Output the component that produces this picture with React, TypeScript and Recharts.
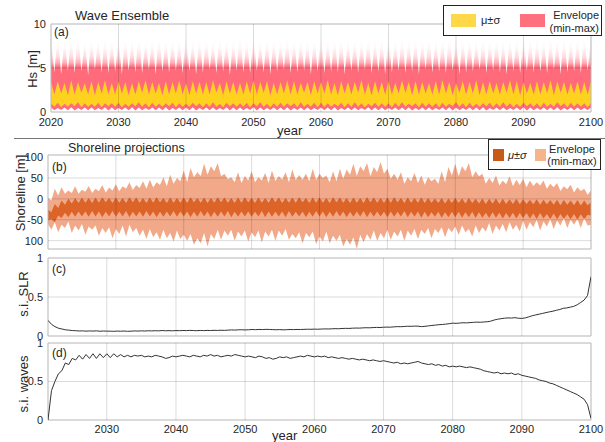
import React from 'react';
import {
  ComposedChart,
  Area,
  Line,
  XAxis,
  YAxis,
  ReferenceLine,
  ReferenceArea,
} from 'recharts';

// ---- panel (a): wave ensemble, one winter peak per year + one summer low ----
const hsMaxPeak = [
  8.6, 9.1, 8.3, 8.8, 9.4, 8.1, 8.9, 8.5, 9.2, 8.7,
  8.4, 9.0, 8.6, 9.5, 8.2, 8.8, 9.1, 8.4, 8.9, 8.6,
  9.3, 8.5, 8.8, 9.0, 8.3, 9.2, 8.7, 8.5, 9.4, 8.6,
  8.9, 8.2, 9.1, 8.8, 8.5, 9.3, 8.7, 9.0, 8.4, 8.9,
  9.2, 8.6, 8.8, 9.5, 8.3, 8.9, 8.7, 9.1, 8.5, 9.0,
  8.8, 8.4, 9.3, 8.6, 9.0, 8.7, 9.2, 8.5, 8.9, 9.4,
  8.6, 8.8, 9.1, 8.4, 9.0, 8.7, 9.3, 8.5, 8.9, 9.1,
  8.6, 9.2, 8.8, 8.5, 9.0, 8.7, 9.4, 8.6, 8.9, 9.1,
  8.8,
];
const hsMaxLow = [
  4.5, 4.3, 4.7, 4.4, 4.6, 4.2, 4.8, 4.5, 4.4, 4.6,
  4.3, 4.7, 4.5, 4.4, 4.8, 4.3, 4.6, 4.5, 4.7, 4.4,
  4.6, 4.3, 4.5, 4.8, 4.4, 4.6, 4.2, 4.7, 4.5, 4.4,
  4.7, 4.5, 4.3, 4.6, 4.8, 4.4, 4.5, 4.7, 4.3, 4.6,
  4.4, 4.6, 4.5, 4.3, 4.7, 4.5, 4.8, 4.4, 4.6, 4.3,
  4.5, 4.7, 4.4, 4.6, 4.3, 4.8, 4.5, 4.6, 4.4, 4.7,
  4.3, 4.5, 4.6, 4.8, 4.4, 4.7, 4.5, 4.3, 4.6, 4.4,
  4.7, 4.5, 4.6, 4.4, 4.8, 4.3, 4.5, 4.6, 4.4, 4.7,
];
const hsUpPeak = [
  3.4, 3.5, 3.3, 3.6, 3.4, 3.3, 3.5, 3.4, 3.6, 3.3,
  3.5, 3.4, 3.3, 3.5, 3.6, 3.4, 3.3, 3.5, 3.4, 3.6,
  3.3, 3.5, 3.4, 3.4, 3.6, 3.3, 3.5, 3.4, 3.3, 3.5,
  3.6, 3.4, 3.5, 3.3, 3.4, 3.6, 3.5, 3.3, 3.4, 3.5,
  3.4, 3.6, 3.3, 3.5, 3.4, 3.4, 3.6, 3.3, 3.5, 3.4,
  3.5, 3.3, 3.6, 3.4, 3.5, 3.4, 3.3, 3.5, 3.6, 3.4,
  3.3, 3.5, 3.4, 3.6, 3.4, 3.5, 3.3, 3.4, 3.6, 3.5,
  3.4, 3.3, 3.5, 3.4, 3.6, 3.5, 3.4, 3.3, 3.5, 3.4,
  3.5,
];
const hsUpLow = [
  2.0, 2.1, 1.9, 2.0, 2.2, 2.0, 1.9, 2.1, 2.0, 2.0,
  2.1, 1.9, 2.0, 2.2, 2.0, 2.1, 1.9, 2.0, 2.1, 2.0,
  1.9, 2.1, 2.0, 2.0, 2.2, 1.9, 2.1, 2.0, 2.0, 2.1,
  2.0, 2.2, 1.9, 2.0, 2.1, 2.0, 2.0, 2.2, 1.9, 2.1,
  2.1, 2.0, 1.9, 2.1, 2.0, 2.2, 2.0, 1.9, 2.1, 2.0,
  2.0, 2.1, 2.2, 1.9, 2.0, 2.1, 2.0, 2.0, 2.1, 1.9,
  2.2, 2.0, 2.1, 1.9, 2.0, 2.1, 2.0, 2.2, 2.0, 1.9,
  2.1, 2.0, 2.0, 2.1, 1.9, 2.2, 2.0, 2.1, 2.0, 2.0,
];
const hsDnPeak = [
  1.0, 1.05, 0.95, 1.0, 1.1, 1.0, 0.95, 1.05, 1.0, 1.0,
  1.05, 0.95, 1.0, 1.1, 1.0, 1.05, 0.95, 1.0, 1.05, 1.0,
  0.95, 1.05, 1.0, 1.0, 1.1, 0.95, 1.05, 1.0, 1.0, 1.05,
  1.0, 1.1, 0.95, 1.0, 1.05, 1.0, 1.0, 1.1, 0.95, 1.05,
  1.05, 1.0, 0.95, 1.05, 1.0, 1.1, 1.0, 0.95, 1.05, 1.0,
  1.0, 1.05, 1.1, 0.95, 1.0, 1.05, 1.0, 1.0, 1.05, 0.95,
  1.1, 1.0, 1.05, 0.95, 1.0, 1.05, 1.0, 1.1, 1.0, 0.95,
  1.05, 1.0, 1.0, 1.05, 0.95, 1.1, 1.0, 1.05, 1.0, 1.0,
  1.0,
];
const hsDnLow = [
  0.6, 0.55, 0.6, 0.65, 0.55, 0.6, 0.6, 0.55, 0.65, 0.6,
  0.55, 0.6, 0.65, 0.6, 0.55, 0.6, 0.6, 0.65, 0.55, 0.6,
  0.6, 0.65, 0.55, 0.6, 0.6, 0.55, 0.65, 0.6, 0.6, 0.55,
  0.65, 0.6, 0.55, 0.6, 0.6, 0.65, 0.55, 0.6, 0.6, 0.55,
  0.6, 0.6, 0.65, 0.55, 0.6, 0.6, 0.55, 0.65, 0.6, 0.6,
  0.55, 0.6, 0.6, 0.65, 0.55, 0.6, 0.6, 0.55, 0.6, 0.65,
  0.6, 0.55, 0.6, 0.6, 0.65, 0.55, 0.6, 0.6, 0.55, 0.6,
  0.65, 0.6, 0.55, 0.6, 0.6, 0.65, 0.55, 0.6, 0.6, 0.55,
];
const hsMinPeak = [
  0.5, 0.45, 0.5, 0.55, 0.45, 0.5, 0.5, 0.45, 0.55, 0.5,
  0.45, 0.5, 0.55, 0.5, 0.45, 0.5, 0.5, 0.55, 0.45, 0.5,
  0.5, 0.55, 0.45, 0.5, 0.5, 0.45, 0.55, 0.5, 0.5, 0.45,
  0.55, 0.5, 0.45, 0.5, 0.5, 0.55, 0.45, 0.5, 0.5, 0.45,
  0.5, 0.5, 0.55, 0.45, 0.5, 0.5, 0.45, 0.55, 0.5, 0.5,
  0.45, 0.5, 0.5, 0.55, 0.45, 0.5, 0.5, 0.45, 0.5, 0.55,
  0.5, 0.45, 0.5, 0.5, 0.55, 0.45, 0.5, 0.5, 0.45, 0.5,
  0.55, 0.5, 0.45, 0.5, 0.5, 0.55, 0.45, 0.5, 0.5, 0.45,
  0.5,
];
const hsMinLow = [
  0.2, 0.22, 0.2, 0.18, 0.22, 0.2, 0.2, 0.22, 0.18, 0.2,
  0.22, 0.2, 0.18, 0.2, 0.22, 0.2, 0.2, 0.18, 0.22, 0.2,
  0.2, 0.18, 0.22, 0.2, 0.2, 0.22, 0.18, 0.2, 0.2, 0.22,
  0.18, 0.2, 0.22, 0.2, 0.2, 0.18, 0.22, 0.2, 0.2, 0.22,
  0.2, 0.2, 0.18, 0.22, 0.2, 0.2, 0.22, 0.18, 0.2, 0.2,
  0.22, 0.2, 0.2, 0.18, 0.22, 0.2, 0.2, 0.22, 0.2, 0.18,
  0.2, 0.22, 0.2, 0.2, 0.18, 0.22, 0.2, 0.2, 0.22, 0.2,
  0.18, 0.2, 0.22, 0.2, 0.2, 0.18, 0.22, 0.2, 0.2, 0.22,
];

// ---- panel (b): shoreline, half-year steps 2020 .. 2100 ----
const shoreEnvHi = [
  2, -4, 24, 8, 28, 12, 20, 14, 30, 12, 22, 17, 31, 14, 24, 18, 33, 15, 27, 20,
  35, 18, 30, 24, 40, 21, 33, 26, 42, 24, 46, 27, 40, 33, 52, 30, 58, 36, 50, 42,
  68, 40, 74, 52, 64, 55, 84, 58, 78, 66, 86, 54, 60, 47, 52, 40, 64, 38, 55, 44,
  66, 40, 52, 44, 62, 38, 68, 43, 55, 46, 64, 40, 70, 45, 57, 46, 60, 42, 72, 45,
  60, 50, 56, 40, 66, 42, 72, 48, 70, 58, 84, 55, 78, 66, 86, 54, 76, 64, 88, 60,
  72, 48, 60, 46, 64, 36, 52, 42, 62, 38, 56, 34, 52, 42, 48, 36, 66, 40, 76, 56,
  84, 54, 78, 66, 86, 52, 66, 54, 60, 36, 50, 38, 56, 32, 44, 35, 54, 30, 46, 33,
  48, 28, 44, 31, 40, 32, 44, 24, 36, 28, 38, 19, 30, 23, 34, 15, 28, 19, 24, 10,
  20,
];
const shoreEnvLo = [
  -60, -74, -56, -80, -62, -70, -54, -82, -64, -76, -60, -86, -66, -74, -64, -88, -70, -82, -68, -94,
  -72, -84, -64, -90, -62, -80, -70, -88, -74, -96, -72, -92, -80, -98, -74, -94, -82, -102, -76, -96,
  -86, -100, -84, -110, -94, -106, -82, -114, -84, -96, -74, -98, -76, -88, -74, -100, -78, -90, -76, -102,
  -80, -92, -76, -104, -78, -90, -74, -100, -76, -88, -72, -98, -84, -94, -80, -106, -82, -92, -78, -108,
  -90, -102, -78, -106, -88, -100, -86, -114, -96, -110, -92, -120, -86, -104, -84, -98, -76, -100, -82, -94,
  -74, -98, -78, -90, -74, -100, -76, -88, -72, -96, -74, -84, -70, -94, -72, -82, -68, -92, -70, -80,
  -66, -86, -64, -80, -72, -90, -64, -82, -68, -78, -58, -84, -64, -76, -60, -80, -56, -74, -62, -78,
  -52, -74, -56, -68, -50, -76, -54, -66, -48, -72, -52, -64, -46, -70, -50, -62, -48, -70, -46, -64,
  -62,
];
const shoreSigHi = [
  -26, -32, -12, -22, -4, -14, 0, -11, 2, -10, 3, -9, 2, -10, 3, -9, 4, -8, 2, -10,
  3, -9, 2, -10, 4, -8, 3, -9, 2, -10, 3, -9, 4, -8, 2, -10, 3, -9, 2, -9,
  3, -10, 4, -8, 2, -9, 3, -10, 2, -9, 4, -8, 3, -9, 2, -10, 3, -9, 4, -8,
  2, -10, 3, -9, 2, -9, 4, -8, 3, -10, 2, -9, 3, -9, 4, -8, 2, -10, 3, -9,
  3, -9, 2, -10, 4, -8, 3, -9, 2, -10, 3, -9, 2, -10, 4, -8, 3, -9, 2, -10,
  3, -9, 4, -8, 2, -10, 3, -9, 2, -9, 3, -10, 2, -9, 1, -10, 2, -11, 1, -10,
  2, -10, 1, -11, 2, -10, 0, -11, 1, -12, 0, -11, 1, -12, 0, -12, -1, -12, 0, -13,
  -1, -12, -2, -13, -1, -14, -2, -13, -3, -14, -2, -15, -3, -14, -4, -15, -3, -16, -4, -15,
  -8,
];
const shoreSigLo = [
  -52, -48, -56, -40, -46, -33, -44, -31, -43, -30, -42, -30, -43, -29, -42, -30, -44, -31, -42, -29,
  -43, -30, -42, -29, -44, -31, -42, -30, -43, -29, -42, -30, -44, -31, -43, -30, -42, -29, -43, -30,
  -42, -30, -44, -31, -43, -29, -42, -30, -44, -31, -43, -30, -42, -29, -44, -31, -43, -30, -42, -30,
  -43, -31, -42, -29, -44, -30, -43, -31, -42, -30, -44, -29, -43, -31, -42, -30, -44, -31, -43, -29,
  -42, -30, -44, -31, -43, -29, -42, -30, -44, -31, -43, -30, -42, -29, -44, -31, -43, -30, -42, -31,
  -44, -30, -43, -31, -42, -29, -44, -31, -43, -30, -45, -31, -44, -32, -43, -31, -45, -32, -44, -31,
  -44, -31, -45, -32, -44, -31, -46, -32, -45, -33, -46, -32, -45, -33, -47, -34, -46, -33, -47, -34,
  -46, -34, -47, -35, -48, -34, -47, -36, -48, -35, -49, -36, -48, -37, -49, -36, -50, -37, -49, -38,
  -40,
];

// ---- panels (c) and (d): sensitivity indices, half-year steps 2021.5 .. 2100 ----
const siSLR = [
  0.2, 0.15, 0.12, 0.1, 0.09, 0.08, 0.075, 0.07,
  0.068, 0.064, 0.066, 0.062, 0.065, 0.063, 0.066, 0.061, 0.064, 0.062,
  0.062, 0.06, 0.063, 0.061, 0.064, 0.06, 0.062, 0.065, 0.063, 0.066, 0.064, 0.067, 0.065, 0.068, 0.066, 0.07, 0.067, 0.069, 0.066, 0.07,
  0.068, 0.071, 0.069, 0.072, 0.07, 0.068, 0.071, 0.069, 0.072, 0.07, 0.073, 0.071, 0.074, 0.072, 0.075, 0.078, 0.076, 0.079, 0.08, 0.078,
  0.08, 0.083, 0.081, 0.084, 0.082, 0.085, 0.084, 0.082, 0.08, 0.082, 0.079, 0.081, 0.083, 0.082, 0.084, 0.083, 0.085, 0.087, 0.086, 0.088,
  0.087, 0.089, 0.091, 0.09, 0.092, 0.094, 0.093, 0.096, 0.098, 0.097, 0.1, 0.102, 0.101, 0.104, 0.106, 0.105, 0.108, 0.11, 0.109, 0.112,
  0.114, 0.113, 0.117, 0.12, 0.119, 0.122, 0.125, 0.124, 0.127, 0.126, 0.12, 0.124, 0.13, 0.135, 0.14, 0.145, 0.148, 0.152, 0.158, 0.165,
  0.162, 0.166, 0.17, 0.168, 0.172, 0.175, 0.178, 0.176, 0.18, 0.183, 0.19, 0.205, 0.215, 0.222, 0.228, 0.232, 0.23, 0.235, 0.228, 0.225,
  0.232, 0.245, 0.26, 0.27, 0.28, 0.29, 0.3, 0.31, 0.318, 0.33, 0.34, 0.355, 0.36, 0.37, 0.38, 0.4, 0.43, 0.46, 0.52, 0.76,
];
const siWaves = [
  0.0, 0.38, 0.5, 0.6, 0.64, 0.74, 0.72, 0.8,
  0.78, 0.84, 0.79, 0.85, 0.8, 0.86, 0.8, 0.86, 0.81, 0.86,
  0.81, 0.86, 0.82, 0.85, 0.82, 0.84, 0.82, 0.84, 0.83, 0.84, 0.82, 0.83, 0.82, 0.84, 0.83, 0.82, 0.8, 0.81, 0.83, 0.82,
  0.83, 0.84, 0.83, 0.82, 0.84, 0.83, 0.82, 0.84, 0.83, 0.85, 0.83, 0.84, 0.82, 0.83, 0.84, 0.83, 0.85, 0.84, 0.83, 0.82,
  0.83, 0.82, 0.81, 0.83, 0.82, 0.8, 0.81, 0.79, 0.8, 0.82, 0.81, 0.82, 0.8, 0.81, 0.82, 0.83, 0.82, 0.84, 0.83, 0.82,
  0.83, 0.82, 0.83, 0.81, 0.82, 0.81, 0.8, 0.81, 0.8, 0.79, 0.8, 0.79, 0.78, 0.79, 0.78, 0.77, 0.78, 0.77, 0.76, 0.77,
  0.76, 0.75, 0.74, 0.75, 0.73, 0.74, 0.73, 0.74, 0.75, 0.76, 0.74, 0.73, 0.72, 0.73, 0.71, 0.72, 0.7, 0.71, 0.69, 0.7,
  0.69, 0.7, 0.69, 0.68, 0.69, 0.68, 0.67, 0.66, 0.64, 0.63, 0.62, 0.61, 0.62, 0.6, 0.61, 0.6, 0.61, 0.59, 0.6, 0.58,
  0.57, 0.56, 0.55, 0.54, 0.52, 0.51, 0.5, 0.48, 0.47, 0.45, 0.43, 0.41, 0.39, 0.37, 0.35, 0.33, 0.3, 0.27, 0.2, 0.02,
];

const yearTicks = [2020, 2030, 2040, 2050, 2060, 2070, 2080, 2090, 2100];
const innerYears = [2030, 2040, 2050, 2060, 2070, 2080, 2090];
const siYearTicks = [2030, 2040, 2050, 2060, 2070, 2080, 2090, 2100];

const waveRows: { t: number; env: number[]; sig: number[] }[] = [];
hsMaxPeak.forEach((_, i) => {
  waveRows.push({ t: 2020 + i, env: [hsMinPeak[i], hsMaxPeak[i]], sig: [hsDnPeak[i], hsUpPeak[i]] });
  if (i < hsMaxLow.length) {
    waveRows.push({ t: 2020.5 + i, env: [hsMinLow[i], hsMaxLow[i]], sig: [hsDnLow[i], hsUpLow[i]] });
  }
});

const shoreRows = shoreEnvHi.map((_, i) => ({
  t: 2020 + i / 2,
  env: [shoreEnvLo[i], shoreEnvHi[i]],
  sig: [shoreSigLo[i], shoreSigHi[i]],
}));

const siRows = siSLR.map((v, i) => ({ t: 2021.5 + i / 2, slr: v, waves: siWaves[i] }));

const FONT = '"Liberation Sans", Arial, Helvetica, sans-serif';
const tickStyle = { fontSize: 11, fill: '#262626', fontFamily: FONT };
const gridStroke = 'rgba(0,0,0,0.14)';
const boxStroke = '#b5b5b5';

function VLabel({ x, y, text, size = 13 }: { x: number; y: number; text: string; size?: number }) {
  return (
    <div
      style={{
        position: 'absolute',
        left: x,
        top: y,
        transform: 'translate(-50%, -50%) rotate(-90deg)',
        whiteSpace: 'nowrap',
        fontSize: size,
        color: '#262626',
      }}
    >
      {text}
    </div>
  );
}

function Txt({ x, y, children, size = 12, style }: { x: number; y: number; children: React.ReactNode; size?: number; style?: React.CSSProperties }) {
  return (
    <div style={{ position: 'absolute', left: x, top: y, fontSize: size, color: '#262626', whiteSpace: 'nowrap', lineHeight: 1, ...style }}>
      {children}
    </div>
  );
}

export default function App() {
  return (
    <div style={{ position: 'absolute', left: 0, top: 0, width: 605, height: 442, background: '#fff', fontFamily: FONT, overflow: 'hidden' }}>
      {/* (a) wave ensemble */}
      <div style={{ position: 'absolute', left: 0, top: 0 }}>
        <ComposedChart width={605} height={135} data={waveRows} margin={{ top: 24, right: 14, bottom: 3, left: 11 }}>
          <defs>
            <linearGradient id="hsFade" gradientUnits="userSpaceOnUse" x1="0" y1="24" x2="0" y2="68">
              <stop offset="0.35" stopColor="#ff6b7a" stopOpacity={0} />
              <stop offset="0.55" stopColor="#ff6b7a" stopOpacity={0.06} />
              <stop offset="0.75" stopColor="#ff6b7a" stopOpacity={0.25} />
              <stop offset="0.88" stopColor="#ff6b7a" stopOpacity={0.55} />
              <stop offset="0.98" stopColor="#ff6b7a" stopOpacity={1} />
            </linearGradient>
          </defs>
          <XAxis type="number" dataKey="t" domain={[2020, 2100]} ticks={yearTicks} interval={0}
            tick={tickStyle} tickLine={false} axisLine={false} tickSize={4} height={20} allowDataOverflow />
          <YAxis type="number" domain={[0, 10]} ticks={[0, 5, 10]} interval={0} width={40}
            tick={tickStyle} tickLine={false} axisLine={false} tickSize={3} allowDataOverflow />
          <Area dataKey="env" type="linear" stroke="none" fill="url(#hsFade)" fillOpacity={1} isAnimationActive={false} />
          <Area dataKey="sig" type="linear" stroke="none" fill="#ffd21f" fillOpacity={1} isAnimationActive={false} />
          {innerYears.map((y) => (
            <ReferenceLine key={y} x={y} stroke={gridStroke} />
          ))}
          <ReferenceLine y={5} stroke={gridStroke} />
          <ReferenceArea x1={2020} x2={2100} y1={0} y2={10} fillOpacity={0} stroke={boxStroke} />
        </ComposedChart>
      </div>

      {/* (b) shoreline projections */}
      <div style={{ position: 'absolute', left: 0, top: 140 }}>
        <ComposedChart width={605} height={115} data={shoreRows} margin={{ top: 15, right: 14, bottom: 6, left: 12 }}>
          <XAxis type="number" dataKey="t" domain={[2020, 2100]} hide allowDataOverflow />
          <YAxis type="number" domain={[-120, 105]} ticks={[-100, -50, 0, 50, 100]} interval={0} width={36}
            tick={tickStyle} tickLine={false} axisLine={false} tickSize={3} allowDataOverflow
            tickFormatter={(v: number) => (v === -100 ? '100' : String(v))} />
          <Area dataKey="env" type="linear" stroke="none" fill="#f2a98a" fillOpacity={1} isAnimationActive={false} />
          <Area dataKey="sig" type="linear" stroke="none" fill="#dd6428" fillOpacity={1} isAnimationActive={false} />
          {innerYears.map((y) => (
            <ReferenceLine key={y} x={y} stroke={gridStroke} />
          ))}
          {[-100, -50, 0, 50].map((v) => (
            <ReferenceLine key={v} y={v} stroke={gridStroke} />
          ))}
          <ReferenceArea x1={2020} x2={2100} y1={-120} y2={105} fillOpacity={0} stroke={boxStroke} />
        </ComposedChart>
      </div>

      {/* (c) s.i. SLR */}
      <div style={{ position: 'absolute', left: 0, top: 250 }}>
        <ComposedChart width={605} height={96} data={siRows} margin={{ top: 8, right: 14, bottom: 10, left: 12 }}>
          <XAxis type="number" dataKey="t" domain={[2021.5, 2100]} hide allowDataOverflow />
          <YAxis type="number" domain={[0, 1]} ticks={[0, 0.5, 1]} interval={0} width={36}
            tick={tickStyle} tickLine={false} axisLine={false} tickSize={3} allowDataOverflow />
          {innerYears.map((y) => (
            <ReferenceLine key={y} x={y} stroke={gridStroke} />
          ))}
          <ReferenceLine y={0.5} stroke={gridStroke} />
          <ReferenceArea x1={2021.5} x2={2100} y1={0} y2={1} fillOpacity={0} stroke={boxStroke} />
          <Line dataKey="slr" type="linear" stroke="#333" strokeWidth={1} dot={false} isAnimationActive={false} />
        </ComposedChart>
      </div>

      {/* (d) s.i. waves */}
      <div style={{ position: 'absolute', left: 0, top: 335 }}>
        <ComposedChart width={605} height={107} data={siRows} margin={{ top: 8, right: 14, bottom: 2, left: 12 }}>
          <XAxis type="number" dataKey="t" domain={[2021.5, 2100]} ticks={siYearTicks} interval={0}
            tick={tickStyle} tickLine={false} axisLine={false} tickSize={3} height={20} allowDataOverflow />
          <YAxis type="number" domain={[0, 1]} ticks={[0, 0.5, 1]} interval={0} width={36}
            tick={tickStyle} tickLine={false} axisLine={false} tickSize={3} allowDataOverflow />
          {innerYears.map((y) => (
            <ReferenceLine key={y} x={y} stroke={gridStroke} />
          ))}
          <ReferenceLine y={0.5} stroke={gridStroke} />
          <ReferenceArea x1={2021.5} x2={2100} y1={0} y2={1} fillOpacity={0} stroke={boxStroke} />
          <Line dataKey="waves" type="linear" stroke="#333" strokeWidth={1} dot={false} isAnimationActive={false} />
        </ComposedChart>
      </div>

      {/* titles, panel letters, axis names */}
      <Txt x={75} y={9} size={13}>Wave Ensemble</Txt>
      <Txt x={54} y={26} size={12}>(a)</Txt>
      <Txt x={277} y={124} size={13}>year</Txt>
      <div style={{ position: 'absolute', left: 14, top: 138, width: 591, borderTop: '1px solid #777' }} />
      <Txt x={68} y={142} size={12.5}>Shoreline projections</Txt>
      <Txt x={52} y={161} size={12}>(b)</Txt>
      <Txt x={52} y={263} size={12}>(c)</Txt>
      <Txt x={52} y={347} size={12}>(d)</Txt>
      <Txt x={272} y={429} size={13}>year</Txt>

      <VLabel x={32} y={69} text="Hs [m]" />
      <VLabel x={20} y={193} text="Shoreline [m]" />
      <VLabel x={23} y={294} text="s.i. SLR" />
      <VLabel x={23} y={384} text="s.i. waves" />

      {/* legend (a) */}
      <div style={{ position: 'absolute', left: 443, top: 5, width: 159, height: 31, border: '1px solid #222', background: '#fff', boxSizing: 'border-box' }}>
        <div style={{ position: 'absolute', left: 7, top: 8, width: 25, height: 13, background: '#ffd84a' }} />
        <Txt x={37} y={9} size={11}>μ±σ</Txt>
        <div style={{ position: 'absolute', left: 76, top: 8, width: 25, height: 13, background: '#ff707f' }} />
        <Txt x={103} y={3} size={11} style={{ width: 52, textAlign: 'right', lineHeight: '13px' }}>
          Envelope<br />(min-max)
        </Txt>
      </div>

      {/* legend (b) */}
      <div style={{ position: 'absolute', left: 488, top: 139, width: 113, height: 31, border: '1px solid #222', background: '#fff', boxSizing: 'border-box' }}>
        <div style={{ position: 'absolute', left: 4, top: 9, width: 11, height: 12, background: '#c85a17' }} />
        <Txt x={19} y={10} size={11} style={{ fontStyle: 'italic' }}>μ±σ</Txt>
        <div style={{ position: 'absolute', left: 46, top: 9, width: 11, height: 12, background: '#f6b48a' }} />
        <Txt x={56} y={3} size={11} style={{ width: 54, textAlign: 'center', lineHeight: '12px' }}>
          Envelope<br />(min-max)
        </Txt>
      </div>
    </div>
  );
}
